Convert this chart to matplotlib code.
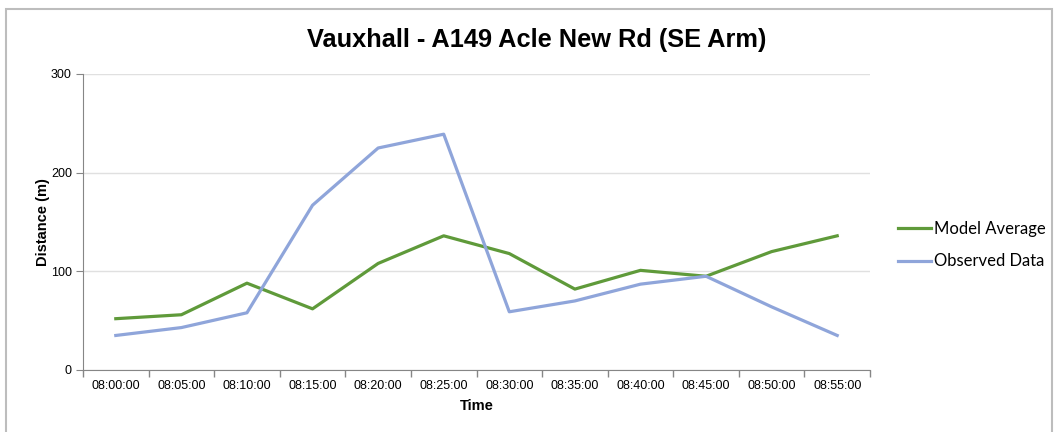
import numpy as np
import matplotlib.pyplot as plt
from matplotlib.patches import Rectangle

times = ["08:00:00", "08:05:00", "08:10:00", "08:15:00", "08:20:00", "08:25:00",
         "08:30:00", "08:35:00", "08:40:00", "08:45:00", "08:50:00", "08:55:00"]
model_avg = [52, 56, 88, 62, 108, 136, 118, 82, 101, 95, 120, 136]
observed = [35, 43, 58, 167, 225, 239, 59, 70, 87, 95, 64, 35]

plt.rcParams['font.family'] = ['Liberation Sans', 'DejaVu Sans']

fig = plt.figure(figsize=(10.55, 4.32), dpi=100)
ax = fig.add_axes([83 / 1055, 1 - 370 / 432, 787 / 1055, 296 / 432])

x = np.arange(len(times))
ax.plot(x, model_avg, color='#5f9a3a', linewidth=2.3, label="Model Average")
ax.plot(x, observed, color='#8fa5da', linewidth=2.3, label="Observed Data")

ax.set_xlim(-0.5, len(times) - 0.5)
ax.set_ylim(0, 300)
ax.set_yticks([0, 100, 200, 300])
ax.set_xticks(x)
ax.set_xticklabels(times, fontsize=9)
ax.set_xticks(np.arange(-0.5, len(times)), minor=True)
ax.tick_params(axis='x', which='major', length=0, pad=7)
ax.tick_params(axis='x', which='minor', length=5, color='#868686', width=1)
ax.tick_params(axis='y', length=5, color='#868686', labelsize=9, pad=3)

ax.grid(axis='y', color='#e0e0e0', linewidth=1)
ax.set_axisbelow(True)
for s in ['top', 'right']:
    ax.spines[s].set_visible(False)
for s in ['left', 'bottom']:
    ax.spines[s].set_color('#868686')

ax.set_xlabel("Time", fontsize=10.5, fontweight='bold', labelpad=5)
ax.set_ylabel("Distance (m)", fontsize=10.5, fontweight='bold', labelpad=1)
fig.text(537 / 1055, 1 - 40 / 432, "Vauxhall - A149 Acle New Rd (SE Arm)",
         fontsize=18.3, fontweight='bold', ha='center', va='center')

leg = fig.legend(loc='center left', bbox_to_anchor=(883 / 1055, 1 - 245 / 432),
                 frameon=False, prop={'family': ['Lato', 'DejaVu Sans'], 'size': 12},
                 handlelength=2.0, handletextpad=0.15, labelspacing=1.0)

fig.add_artist(Rectangle((6 / 1055, -0.1), 1046 / 1055, 1.1 - 9 / 432,
                         transform=fig.transFigure, fill=False,
                         edgecolor='#bdbdbd', linewidth=1.5))

fig.savefig("out.png", dpi=100)
